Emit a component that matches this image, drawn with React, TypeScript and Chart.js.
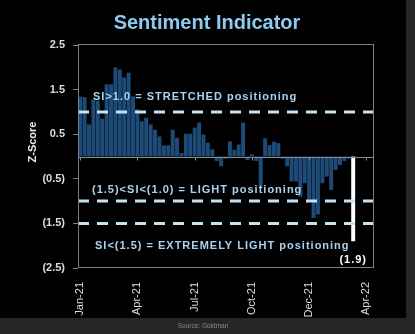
import React, { useEffect, useRef } from "react";
import { Chart, registerables } from "chart.js";

Chart.register(...registerables);

// Weekly sentiment indicator Z-scores (Jan-21 .. Mar-22)
const zScores: number[] = [
  1.34, 1.33, 0.72, 1.28, 1.25, 0.85, 1.62, 1.62, 2.0, 1.95,
  1.77, 1.88, 1.35, 1.06, 0.79, 0.87, 0.72, 0.6, 0.45, 0.25,
  0.25, 0.6, 0.42, 0.08, 0.51, 0.51, 0.65, 0.76, 0.49, 0.31,
  0.16, -0.1, -0.22, -0.05, 0.34, 0.15, 0.27, 0.76, -0.08, 0.05,
  -0.1, -0.68, 0.41, 0.26, 0.33, 0.3, -0.05, -0.22, -0.56, -0.56,
  -0.9, -0.6, -0.97, -1.38, -1.3, -0.6, -0.45, -0.75, -0.3, -0.19,
  -0.1, -0.05, -1.9,
];
const weekCount = 67;
const monthLabels: string[] = ["Jan-21", "Apr-21", "Jul-21", "Oct-21", "Dec-21", "Apr-22"];
const monthLabelWeeks: number[] = [0, 13, 26, 39, 52, 65];
const yTicks: number[] = [-2.5, -1.5, -0.5, 0.5, 1.5, 2.5];
const thresholds: number[] = [1.0, -1.0, -1.5];
const zoneTexts: string[] = [
  "SI>1.0 = STRETCHED positioning",
  "(1.5)<SI<(1.0) = LIGHT positioning",
  "SI<(1.5) = EXTREMELY LIGHT positioning",
];
const zoneTextLevels: number[] = [1.33, -0.74, -2.0];
const latestLabel = "(1.9)";
const titleText = "Sentiment Indicator";
const yTitle = "Z-Score";
const sourceText = "Source: Goldman";

const NAVY = "#1d4a76";
const LIGHT = "#a9d3f1";
const FONT = "Arial, 'Liberation Sans', sans-serif";

const categories: string[] = Array.from({ length: weekCount }, (_, i) => {
  const k = monthLabelWeeks.indexOf(i);
  return k >= 0 ? monthLabels[k] : "";
});
const seriesData: (number | null)[] = categories.map((_, i) =>
  i < zScores.length ? zScores[i] : null
);

const fmt = (v: number) => (v < 0 ? `(${Math.abs(v).toFixed(1)})` : v.toFixed(1));

const deco = {
  id: "deco",
  beforeDraw(chart: any) {
    const { ctx, width, height } = chart;
    ctx.save();
    ctx.fillStyle = "#262626";
    ctx.fillRect(0, 0, width, height);
    ctx.fillStyle = "#000";
    ctx.fillRect(0, 0, 406, 318);
    ctx.restore();
  },
  afterDatasetsDraw(chart: any) {
    const { ctx, chartArea: a, scales } = chart;
    const y = scales.y;
    const x = scales.x;
    ctx.save();
    // zero line
    ctx.strokeStyle = "#8a8a8a";
    ctx.lineWidth = 1;
    const y0 = Math.round(y.getPixelForValue(0)) + 0.5;
    ctx.beginPath();
    ctx.moveTo(a.left, y0);
    ctx.lineTo(a.right, y0);
    monthLabelWeeks.forEach((w) => {
      const px = Math.round(x.getPixelForValue(w)) + 0.5;
      ctx.moveTo(px, y0);
      ctx.lineTo(px, y0 + 3);
    });
    ctx.stroke();
    // thresholds
    ctx.strokeStyle = "#c4e2f6";
    ctx.lineWidth = 3;
    ctx.setLineDash([11, 8]);
    thresholds.forEach((t) => {
      const py = y.getPixelForValue(t);
      ctx.beginPath();
      ctx.moveTo(a.left, py);
      ctx.lineTo(a.right, py);
      ctx.stroke();
    });
    ctx.setLineDash([]);
    // box
    ctx.strokeStyle = "#7e7e7e";
    ctx.lineWidth = 1;
    ctx.strokeRect(Math.round(a.left) + 0.5, Math.round(a.top) - 0.5, Math.round(a.right - a.left), Math.round(a.bottom - a.top));
    // zone texts
    ctx.font = `bold 11px ${FONT}`;
    (ctx as any).letterSpacing = "1px";
    ctx.fillStyle = LIGHT;
    ctx.textBaseline = "middle";
    ctx.textAlign = "left";
    const offs = [15, 14, 17];
    zoneTexts.forEach((t, i) => {
      ctx.fillText(t, a.left + offs[i], y.getPixelForValue(zoneTextLevels[i]));
    });
    ctx.fillStyle = "#ffffff";
    ctx.textAlign = "right";
    ctx.fillText(latestLabel, a.right - 6, y.getPixelForValue(-2.33));
    (ctx as any).letterSpacing = "0px";
    ctx.restore();
  },
  afterDraw(chart: any) {
    const { ctx } = chart;
    ctx.save();
    ctx.textAlign = "center";
    ctx.textBaseline = "middle";
    ctx.font = `bold 20px ${FONT}`;
    ctx.fillStyle = "#8ecaf0";
    ctx.fillText(titleText, 207, 23);
    ctx.font = `6.5px ${FONT}`;
    ctx.fillStyle = "#8a8a8a";
    ctx.fillText(sourceText, 203, 326);
    ctx.translate(33, 142);
    ctx.rotate(-Math.PI / 2);
    ctx.font = `bold 11px ${FONT}`;
    ctx.fillStyle = "#eeeeee";
    ctx.fillText(yTitle, 0, 0);
    ctx.restore();
  },
};

export default function App() {
  const ref = useRef<HTMLCanvasElement | null>(null);
  useEffect(() => {
    if (!ref.current) return;
    const chart = new Chart(ref.current, {
      type: "bar",
      data: {
        labels: categories,
        datasets: [
          {
            data: seriesData,
            backgroundColor: seriesData.map((_, i) => (i === zScores.length - 1 ? "#ffffff" : NAVY)),
            barPercentage: 0.9,
            categoryPercentage: 1,
          },
        ],
      },
      options: {
        animation: false,
        responsive: false,
        layout: { padding: { top: 45, left: 0, right: 42, bottom: 16 } },
        plugins: { legend: { display: false }, tooltip: { enabled: false }, title: { display: false } },
        scales: {
          x: {
            grid: { display: false },
            border: { display: false },
            ticks: {
              autoSkip: false,
              maxRotation: 90,
              minRotation: 90,
              color: "#dddddd",
              font: { family: FONT, size: 11 },
              padding: 6,
            },
            afterFit: (s: any) => {
              s.height = 50;
            },
          },
          y: {
            min: -2.5,
            max: 2.5,
            afterBuildTicks: (s: any) => {
              s.ticks = yTicks.map((v) => ({ value: v }));
            },
            grid: { drawOnChartArea: false, tickLength: 5, tickColor: "#7e7e7e" },
            border: { display: false },
            ticks: {
              color: "#dddddd",
              font: { family: FONT, size: 11, weight: "bold" },
              padding: 8,
              callback: (v: any) => fmt(Number(v)),
            },
            afterFit: (s: any) => {
              s.width = 78;
            },
          },
        },
      },
      plugins: [deco],
    });
    return () => chart.destroy();
  }, []);
  return (
    <div style={{ position: "fixed", left: 0, top: 0, width: 415, height: 334 }}>
      <canvas ref={ref} width={415} height={334} style={{ display: "block" }} />
    </div>
  );
}
